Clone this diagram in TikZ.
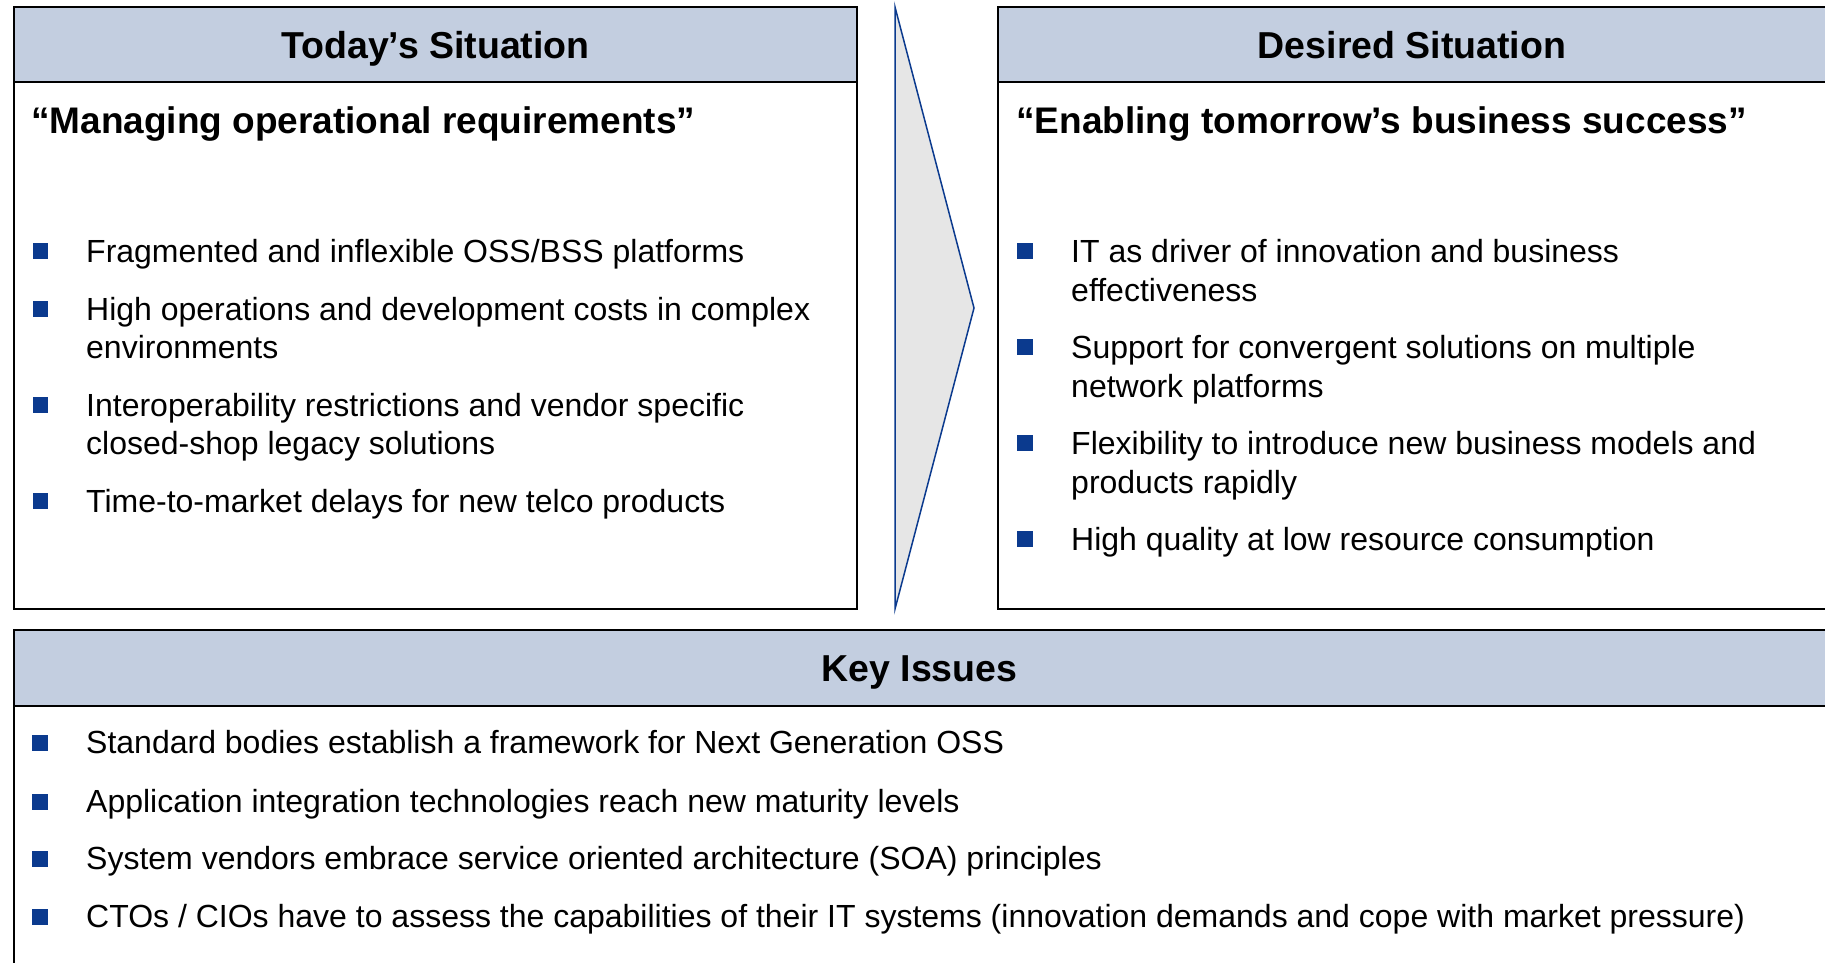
\documentclass[tikz,border=0pt]{standalone}
\usepackage{fontspec}
\setmainfont{Liberation Sans}
\definecolor{hdr}{HTML}{C3CEE0}
\definecolor{navy}{HTML}{0B3A8E}
\definecolor{arrowfill}{HTML}{E6E6E6}
\begin{document}
\begin{tikzpicture}[x=1pt,y=-1pt,
  frame/.style={draw=black,line width=2pt},
  hdrband/.style={fill=hdr,draw=black,line width=2pt},
  hdrtext/.style={font=\fontsize{37.5}{42}\selectfont\bfseries,anchor=base,inner sep=0pt},
  subtext/.style={font=\fontsize{37}{42}\selectfont\bfseries,anchor=base west,inner sep=0pt},
  item/.style={font=\fontsize{32}{38}\selectfont,anchor=base west,inner sep=0pt},
  sq/.style={fill=navy,minimum size=15.5pt,inner sep=0pt,anchor=center}]
\useasboundingbox (0,0) rectangle (1825,963);

% ---------- left box ----------
\path[hdrband] (14,7) rectangle (857,82);
\draw[frame] (14,7) rectangle (857,609);
\node[hdrtext] (lh) at (435.5,59) {Today’s Situation};
\node[subtext] (ls) at (31,134) {“Managing operational requirements”};

\node[sq] (lb1) at (40.5,251) {};
\node[item] (l1) at (86,262) {Fragmented and inflexible OSS/BSS platforms};
\node[sq] (lb2) at (40.5,309) {};
\node[item] (l2a) at (86,320) {High operations and development costs in complex};
\node[item] (l2b) at (86,358) {environments};
\node[sq] (lb3) at (40.5,405) {};
\node[item] (l3a) at (86,416) {Interoperability restrictions and vendor specific};
\node[item] (l3b) at (86,454) {closed-shop legacy solutions};
\node[sq] (lb4) at (40.5,501) {};
\node[item] (l4) at (86,512) {Time-to-market delays for new telco products};

% ---------- arrow ----------
\draw[draw=navy,fill=arrowfill,line width=1.5pt,line join=miter]
  (895,7) -- (974,308) -- (895,609) -- cycle;

% ---------- right box ----------
\path[hdrband] (998,7) rectangle (1832,82);
\draw[frame] (998,7) rectangle (1832,609);
\node[hdrtext] (rh) at (1412,59) {Desired Situation};
\node[subtext] (rs) at (1016,134) {“Enabling tomorrow’s business success”};

\node[sq] (rb1) at (1025,251) {};
\node[item] (r1a) at (1071,262) {IT as driver of innovation and business};
\node[item] (r1b) at (1071,301) {effectiveness};
\node[sq] (rb2) at (1025,347) {};
\node[item] (r2a) at (1071,358) {Support for convergent solutions on multiple};
\node[item] (r2b) at (1071,397) {network platforms};
\node[sq] (rb3) at (1025,443) {};
\node[item] (r3a) at (1071,454) {Flexibility to introduce new business models and};
\node[item] (r3b) at (1071,493) {products rapidly};
\node[sq] (rb4) at (1025,539) {};
\node[item] (r4) at (1071,550) {High quality at low resource consumption};

% ---------- bottom box ----------
\path[hdrband] (14,630) rectangle (1832,706);
\draw[frame] (14,630) rectangle (1832,975);
\node[hdrtext] (bh) at (919.5,681) {Key Issues};

\node[sq] (bb1) at (40,743) {};
\node[item] (b1) at (86,753) {Standard bodies establish a framework for Next Generation OSS};
\node[sq] (bb2) at (40,802) {};
\node[item] (b2) at (86,812) {Application integration technologies reach new maturity levels};
\node[sq] (bb3) at (40,859) {};
\node[item] (b3) at (86,869) {System vendors embrace service oriented architecture (SOA) principles};
\node[sq] (bb4) at (40,917) {};
\node[item] (b4) at (86,927) {CTOs / CIOs have to assess the capabilities of their IT systems (innovation demands and cope with market pressure)};
\end{tikzpicture}
\end{document}
